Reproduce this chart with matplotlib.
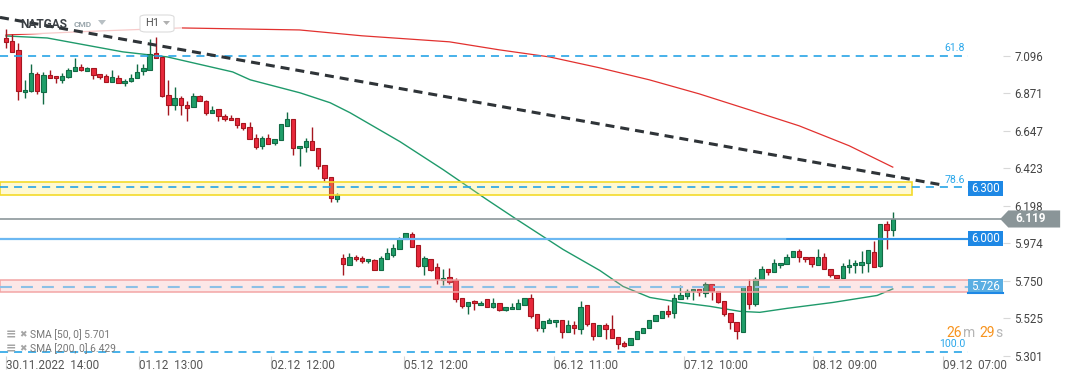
import numpy as np
import matplotlib
matplotlib.use("Agg")
import matplotlib.pyplot as plt
from matplotlib.patches import Rectangle, FancyBboxPatch, Polygon

plt.rcParams['font.family'] = ['Roboto', 'DejaVu Sans']
plt.rcParams['lines.scale_dashes'] = False

# --- NATGAS H1 candles ---
opens = [7.200, 7.184, 7.130, 6.877, 6.885, 6.985, 6.877, 6.979, 6.973, 6.949,
         6.967, 7.003, 7.027, 7.003, 7.021, 6.985, 6.973, 6.937, 6.961, 6.931,
         6.943, 6.961, 7.003, 7.012, 7.110, 7.090, 6.861, 6.798, 6.842, 6.802,
         6.788, 6.855, 6.826, 6.752, 6.776, 6.736, 6.722, 6.722, 6.693, 6.669,
         6.603, 6.553, 6.603, 6.571, 6.589, 6.672, 6.716, 6.541, 6.547, 6.587,
         6.543, 6.442, 6.370, 6.239, 5.887, 5.843, 5.893, 5.887, 5.869, 5.875,
         5.813, 5.881, 5.903, 5.941, 6.000, 6.032, 5.961, 5.837, 5.881, 5.833,
         5.754, 5.774, 5.752, 5.648, 5.598, 5.628, 5.607, 5.643, 5.593, 5.619,
         5.577, 5.583, 5.583, 5.607, 5.648, 5.549, 5.467, 5.499, 5.505, 5.517,
         5.446, 5.487, 5.459, 5.603, 5.499, 5.419, 5.483, 5.464, 5.416, 5.376,
         5.368, 5.400, 5.436, 5.467, 5.511, 5.527, 5.571, 5.555, 5.642, 5.659,
         5.688, 5.702, 5.678, 5.732, 5.688, 5.628, 5.559, 5.505, 5.446, 5.718,
         5.609, 5.758, 5.821, 5.801, 5.845, 5.849, 5.893, 5.927, 5.893, 5.893,
         5.845, 5.893, 5.821, 5.782, 5.768, 5.833, 5.841, 5.845, 5.853, 5.923,
         5.837, 6.092, 6.052]
highs = [7.255, 7.224, 7.170, 6.951, 7.045, 7.000, 7.000, 7.009, 6.973, 6.991,
         7.024, 7.080, 7.045, 7.027, 7.021, 6.985, 6.985, 7.011, 6.979, 6.955,
         6.985, 7.045, 7.045, 7.196, 7.206, 7.090, 6.951, 6.905, 6.855, 6.826,
         6.873, 6.863, 6.832, 6.796, 6.776, 6.746, 6.742, 6.722, 6.693, 6.696,
         6.629, 6.613, 6.629, 6.597, 6.688, 6.760, 6.716, 6.555, 6.605, 6.670,
         6.543, 6.442, 6.370, 6.275, 5.911, 5.917, 5.905, 5.899, 5.881, 5.881,
         5.899, 5.947, 5.971, 6.012, 6.036, 6.040, 5.961, 5.897, 5.881, 5.857,
         5.821, 5.827, 5.765, 5.648, 5.624, 5.634, 5.631, 5.643, 5.649, 5.619,
         5.595, 5.619, 5.643, 5.648, 5.668, 5.549, 5.507, 5.527, 5.517, 5.517,
         5.513, 5.511, 5.626, 5.603, 5.499, 5.483, 5.495, 5.543, 5.416, 5.388,
         5.410, 5.448, 5.470, 5.517, 5.543, 5.571, 5.603, 5.668, 5.722, 5.698,
         5.702, 5.702, 5.742, 5.732, 5.688, 5.628, 5.559, 5.505, 5.714, 5.762,
         5.774, 5.837, 5.821, 5.881, 5.857, 5.907, 5.927, 5.937, 5.893, 5.893,
         5.937, 5.917, 5.821, 5.782, 5.853, 5.877, 5.873, 5.927, 5.931, 5.986,
         6.092, 6.106, 6.159]
lows = [7.144, 7.116, 6.830, 6.842, 6.881, 6.866, 6.806, 6.961, 6.931, 6.929,
        6.961, 7.003, 7.006, 7.003, 6.955, 6.953, 6.937, 6.937, 6.929, 6.913,
        6.937, 6.961, 6.977, 7.009, 7.080, 6.851, 6.742, 6.768, 6.742, 6.706,
        6.788, 6.827, 6.738, 6.752, 6.702, 6.702, 6.710, 6.660, 6.648, 6.597,
        6.539, 6.539, 6.567, 6.559, 6.589, 6.672, 6.503, 6.438, 6.517, 6.533,
        6.418, 6.344, 6.219, 6.219, 5.783, 5.843, 5.869, 5.857, 5.857, 5.813,
        5.813, 5.881, 5.893, 5.941, 6.000, 5.953, 5.831, 5.783, 5.810, 5.730,
        5.724, 5.730, 5.622, 5.586, 5.551, 5.574, 5.607, 5.595, 5.587, 5.567,
        5.569, 5.583, 5.583, 5.607, 5.527, 5.449, 5.443, 5.499, 5.473, 5.408,
        5.446, 5.430, 5.430, 5.479, 5.398, 5.419, 5.400, 5.408, 5.344, 5.354,
        5.368, 5.400, 5.436, 5.467, 5.511, 5.527, 5.531, 5.529, 5.642, 5.638,
        5.634, 5.658, 5.654, 5.634, 5.615, 5.539, 5.464, 5.404, 5.446, 5.579,
        5.599, 5.758, 5.783, 5.801, 5.827, 5.849, 5.893, 5.861, 5.861, 5.831,
        5.845, 5.821, 5.774, 5.765, 5.768, 5.797, 5.797, 5.797, 5.801, 5.833,
        5.831, 5.937, 6.020]
closes = [7.176, 7.120, 6.887, 6.889, 6.991, 6.883, 6.981, 6.961, 6.961, 6.973,
          7.009, 7.027, 7.009, 7.021, 6.977, 6.967, 6.937, 6.967, 6.931, 6.943,
          6.961, 7.000, 7.023, 7.104, 7.080, 6.855, 6.798, 6.842, 6.798, 6.782,
          6.855, 6.827, 6.752, 6.772, 6.732, 6.716, 6.710, 6.678, 6.663, 6.597,
          6.547, 6.603, 6.567, 6.597, 6.688, 6.716, 6.541, 6.555, 6.587, 6.533,
          6.434, 6.362, 6.245, 6.261, 5.851, 5.893, 5.879, 5.867, 5.881, 5.813,
          5.887, 5.913, 5.947, 6.000, 6.036, 5.953, 5.837, 5.887, 5.817, 5.758,
          5.768, 5.740, 5.643, 5.598, 5.624, 5.615, 5.619, 5.595, 5.619, 5.577,
          5.595, 5.595, 5.619, 5.648, 5.539, 5.467, 5.507, 5.513, 5.517, 5.446,
          5.483, 5.469, 5.595, 5.489, 5.419, 5.483, 5.464, 5.408, 5.374, 5.360,
          5.410, 5.448, 5.470, 5.517, 5.543, 5.571, 5.551, 5.648, 5.662, 5.689,
          5.702, 5.682, 5.732, 5.688, 5.625, 5.553, 5.503, 5.449, 5.714, 5.613,
          5.762, 5.821, 5.801, 5.853, 5.857, 5.893, 5.927, 5.893, 5.881, 5.849,
          5.893, 5.821, 5.782, 5.765, 5.839, 5.845, 5.853, 5.859, 5.931, 5.833,
          6.092, 6.052, 6.120]

# moving averages, sampled along the drawn curves (bar index, price)
sma200_bar = [0, 15, 28, 47, 57, 71, 79, 87, 95, 103, 111, 119, 127, 135, 142]
sma200_val = [7.219, 7.243, 7.261, 7.249, 7.214, 7.178, 7.130, 7.088, 7.023,
              6.951, 6.867, 6.772, 6.676, 6.557, 6.429]
sma50_bar = [0, 6.6, 18.7, 25.8, 36.3, 39.1, 47.1, 51.9, 55.1, 63.1, 70.0, 77.0,
             81.8, 89.2, 95.1, 98.8, 103.1, 107.9, 112.7, 117.5, 120.7, 125.1,
             132.4, 139.5, 142]
sma50_val = [7.213, 7.201, 7.118, 7.088, 6.998, 6.951, 6.873, 6.814, 6.754,
             6.581, 6.414, 6.235, 6.116, 5.937, 5.811, 5.716, 5.650, 5.620,
             5.597, 5.567, 5.561, 5.585, 5.620, 5.662, 5.701]

trend_bar = [-0.96, 150.0]
trend_val = [7.324, 6.322]

fib_levels = [7.094, 6.310, 5.324]
fib_labels = ["61.8", "78.6", "100.0"]
zone_yellow = (6.263, 6.340)
zone_red = (5.684, 5.753)
level_red_line = 5.715
level_blue = 6.000
last_price = 6.119

price_ticks = [7.096, 6.871, 6.647, 6.423, 6.198, 5.974, 5.750, 5.525, 5.301]
time_tick_bars = [0, 21.3, 42.4, 63.7, 87.7, 108.5, 129.3, 150.1]
time_tick_labels = ["30.11.2022  14:00", "01.12  13:00", "02.12  12:00",
                    "05.12  12:00", "06.12  11:00", "07.12  10:00",
                    "08.12  09:00", "09.12  07:00"]

W, H = 1072, 382
fig = plt.figure(figsize=(W / 100, H / 100), dpi=100)
ax = fig.add_axes([0, 26 / H, 1003 / W, 356 / H])
ax.set_xlim(-0.96, 159.65)
ax.set_ylim(5.300, 7.428)
for sp in ax.spines.values():
    sp.set_visible(False)

o = np.array(opens); h = np.array(highs); l = np.array(lows); c = np.array(closes)
x = np.arange(len(o))
up = c >= o
fill = np.where(up, "#1f9e69", "#e8283b")
edge = np.where(up, "#126b45", "#a5161f")
ax.vlines(x, l, h, colors=edge, lw=1.0, zorder=3)
ax.bar(x, np.maximum(np.abs(c - o), 0.006), bottom=np.minimum(o, c), width=0.7,
       color=fill, edgecolor=edge, linewidth=0.8, zorder=4)

# moving averages
ax.plot(sma200_bar, sma200_val, color="#e2312f", lw=0.9, zorder=2)
ax.plot(sma50_bar, sma50_val, color="#1f9a6b", lw=1.0, zorder=2)

# zones
ax.add_patch(Rectangle((-1, zone_yellow[0]), 146.1, zone_yellow[1] - zone_yellow[0],
                       facecolor="#ffe94d", alpha=0.25, edgecolor="none", zorder=6))
ax.add_patch(Rectangle((-1, zone_yellow[0]), 146.1, zone_yellow[1] - zone_yellow[0],
                       facecolor="none", edgecolor="#f3da2a", lw=1.2, zorder=6))
ax.add_patch(Rectangle((-1, zone_red[0]), 160.65, zone_red[1] - zone_red[0],
                       facecolor="#f7a0a0", alpha=0.25, edgecolor="none", zorder=6))
ax.add_patch(Rectangle((-1, zone_red[0]), 160.65, zone_red[1] - zone_red[0],
                       facecolor="none", edgecolor="#f3a5a5", lw=1.1, zorder=6))

# fibonacci levels
for lv, lab in zip(fib_levels, fib_labels):
    ax.plot([-1, 154.0], [lv, lv], color="#27a4e6", lw=1.2, dashes=(5.8, 4.3), zorder=7)
    ax.text(153.6, lv + 0.045, lab, color="#2aa7ea", fontsize=7.6,
            ha="right", va="center", zorder=9)

ax.plot([-1, 154.0], [level_red_line] * 2, color="#8cc0e6", lw=1.5,
        dashes=(8.6, 6.5), zorder=7)
ax.plot([-1, 154.0], [level_blue] * 2, color="#6cb8f2", lw=1.6, zorder=7)
ax.plot([125.0, 154.0], [level_blue] * 2, color="#1e88e5", lw=1.1, zorder=7)
ax.plot([-1, 159.65], [last_price] * 2, color="#8c979b", lw=1.2, zorder=7)

# trend line
ax.plot(trend_bar, trend_val, color="#2f3438", lw=2.2, dashes=(6.5, 4.3), zorder=8)

# price label boxes at the right
bh = 0.045
for val, txt, col in [(6.300, "6.300", "#1e88e5"), (level_blue, "6.000", "#1e88e5"),
                      (level_red_line, "5.726", "#5aaee2")]:
    ax.add_patch(Rectangle((154.0, val - bh), 5.65, 2 * bh, facecolor=col,
                           edgecolor="none", zorder=10, clip_on=False))
    ax.text(156.8, val, txt, color="white", fontsize=8.3, ha="center",
            va="center", zorder=11, clip_on=False)
ax.plot([154.0, 159.65], [level_red_line - bh + 0.006] * 2, color="#1e88e5",
        lw=1.5, zorder=11, clip_on=False)

ax.add_patch(Polygon([(159.2, last_price), (160.5, last_price + 0.051),
                      (168.8, last_price + 0.051), (168.8, last_price - 0.051),
                      (160.5, last_price - 0.051)], closed=True,
                     facecolor="#8a9598", edgecolor="none", zorder=10, clip_on=False))
ax.text(164.0, last_price, "6.119", color="white", fontsize=8.5, fontweight="bold",
        ha="center", va="center", zorder=11, clip_on=False)

# axes ticks
ax.yaxis.tick_right()
ax.set_yticks(price_ticks, [f"{v:.3f}" for v in price_ticks])
ax.tick_params(axis="y", length=5, width=0.8, color="#d8d8d8", pad=3,
               labelsize=8.3, labelcolor="#444444")
ax.set_xticks(time_tick_bars, time_tick_labels, ha="left")
ax.tick_params(axis="x", length=9.4, width=0.8, color="#d4d4d4", pad=-7.2,
               labelsize=8.4, labelcolor="#555555")

# header panel
ax.add_patch(FancyBboxPatch((2 / W, 1 - 34 / H), 180 / W, 29 / H,
                            boxstyle="round,pad=0,rounding_size=0.004",
                            transform=fig.transFigure, facecolor="white",
                            edgecolor="none", alpha=0.75, zorder=2.5))


def ftext(px, py, s, **kw):
    fig.text(px / W, 1 - py / H, s, **kw)


ftext(20, 24, "NATGAS", fontsize=8.6, fontweight="bold", color="#3a3f44",
      va="center", zorder=5)
ftext(74, 24.5, "CMD", fontsize=6.0, fontweight="bold", color="#9aa6ac",
      va="center", zorder=5)
fig.add_artist(Polygon([(98 / W, 1 - 20 / H), (106 / W, 1 - 20 / H), (102 / W, 1 - 25 / H)],
                       closed=True, transform=fig.transFigure, facecolor="#b8c0c4",
                       edgecolor="none"))
fig.add_artist(FancyBboxPatch((140 / W, 1 - 32 / H), 34 / W, 17 / H,
                              boxstyle="round,pad=0,rounding_size=0.006",
                              transform=fig.transFigure, facecolor="white",
                              edgecolor="#dcdcdc", lw=0.8))
ftext(145, 23.5, "H1", fontsize=8.0, color="#555555", va="center", zorder=5)
fig.add_artist(Polygon([(163 / W, 1 - 21 / H), (170 / W, 1 - 21 / H), (166.5 / W, 1 - 25 / H)],
                       closed=True, transform=fig.transFigure, facecolor="#b0b0b0",
                       edgecolor="none"))

# indicator legend
for py, txt in [(335, "SMA [50, 0] 5.701"), (348.5, "SMA [200, 0] 6.429")]:
    ftext(6, py, "\u2261", family="DejaVu Sans", fontsize=9, color="#a5a5a5",
          va="center", fontweight="bold", zorder=5)
    ftext(19, py, "\u2716", family="DejaVu Sans", fontsize=6.5, color="#a5a5a5",
          va="center", zorder=5)
    ftext(30, py, txt, fontsize=7.4, color="#777777", va="center", zorder=5)

# countdown
for px, s, col in [(946, "26", "#f7931e"), (962.5, "m", "#b5b5b5"),
                   (979, "29", "#f7931e"), (995.5, "s", "#b5b5b5")]:
    ftext(px, 333, s, fontsize=10.0, color=col, va="center", zorder=5)

fig.savefig("out.png", dpi=100)
